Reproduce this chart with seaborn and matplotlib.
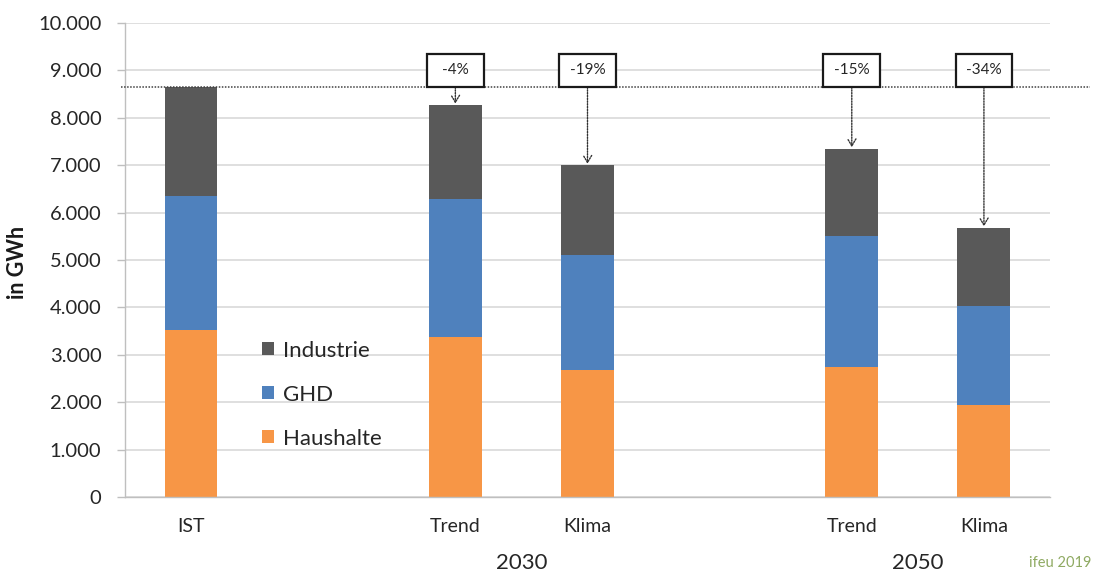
import numpy as np
import pandas as pd
import matplotlib
matplotlib.use("Agg")
import matplotlib.pyplot as plt
from matplotlib.patches import Rectangle
from matplotlib.ticker import FuncFormatter, FixedLocator
import seaborn as sns

# Stromverbrauch nach Sektoren (GWh)
slots = ["IST", "_gap1", "Trend 2030", "Klima 2030", "_gap2", "Trend 2050", "Klima 2050"]
tick_labels = ["IST", "", "Trend", "Klima", "", "Trend", "Klima"]
scenarios = ["IST", "Trend 2030", "Klima 2030", "Trend 2050", "Klima 2050"]
haushalte = [3530, 3380, 2680, 2750, 1940]
ghd = [2820, 2900, 2430, 2750, 2090]
industrie = [2300, 1990, 1890, 1850, 1650]
years = ["2030", "2050"]

COL_IND = "#595959"
COL_GHD = "#4f81bd"
COL_HH = "#f79646"

df = pd.DataFrame({"szenario": scenarios, "Haushalte": haushalte,
                   "GHD": ghd, "Industrie": industrie})
df["cum_ghd"] = df["Haushalte"] + df["GHD"]
df["total"] = df["cum_ghd"] + df["Industrie"]

sns.set_style("white")
plt.rcParams["font.family"] = ["Lato", "DejaVu Sans"]

fig = plt.figure(figsize=(10.93, 5.73), dpi=100)
ax = fig.add_axes([125 / 1093, 1 - 497 / 573, 925 / 1093, 474 / 573])

common = dict(data=df, x="szenario", order=slots, width=0.4,
              errorbar=None, saturation=1, ax=ax, linewidth=0)
sns.barplot(y="total", color=COL_IND, label="Industrie", **common)
sns.barplot(y="cum_ghd", color=COL_GHD, label="GHD", **common)
sns.barplot(y="Haushalte", color=COL_HH, label="Haushalte", **common)

ax.set_ylim(0, 10000)
ax.set_xlim(-0.5, len(slots) - 0.5)
ax.yaxis.set_major_locator(FixedLocator(np.arange(0, 10001, 1000)))
ax.yaxis.set_major_formatter(FuncFormatter(lambda v, p: f"{int(v):,}".replace(",", ".")))
ax.yaxis.grid(True, color="#d9d9d9", linewidth=1.2)
ax.set_axisbelow(True)

ax.set_xticks(range(len(slots)))
ax.set_xticklabels(tick_labels)
ax.xaxis.set_minor_locator(FixedLocator(np.arange(-0.5, len(slots), 1.0)))
ax.tick_params(axis="x", which="major", length=0, pad=15, labelsize=14, labelcolor="#262626")
ax.tick_params(axis="x", which="minor", length=6, width=1, color="#bfbfbf")
ax.tick_params(axis="y", which="major", length=6, width=1, color="#bfbfbf",
               labelsize=14.5, labelcolor="#262626", left=True, pad=11)

for side in ["top", "right"]:
    ax.spines[side].set_visible(False)
for side in ["left", "bottom"]:
    ax.spines[side].set_color("#bfbfbf")
    ax.spines[side].set_linewidth(1)

ax.set_xlabel("")
ax.set_ylabel("")
fig.text(17 / 1093, 1 - 262 / 573, "in GWh", rotation=90, ha="center", va="center",
         fontsize=15.5, fontweight="bold", color="#1a1a1a")

# year labels below the scenario pairs
pos = {s: slots.index(s) for s in scenarios}
for yr in years:
    xc = (pos[f"Trend {yr}"] + pos[f"Klima {yr}"]) / 2
    ax.text(xc, -0.139, yr, transform=ax.get_xaxis_transform(),
            ha="center", va="center", fontsize=16, color="#262626")

fig.text(1091 / 1093, 1 - 563 / 573, "ifeu 2019", ha="right", va="center",
         fontsize=10.5, color="#8faa62")

# reference line at the IST total
ist_total = df.loc[df["szenario"] == "IST", "total"].iloc[0]
ax.plot([-0.53, 6.8], [ist_total, ist_total], linestyle=(0, (1, 1)),
        color="#404040", linewidth=1.1, clip_on=False, zorder=3)

# change vs. IST with arrows
box_w, box_h = 0.43, 700
for _, row in df.iterrows():
    if row["szenario"] == "IST":
        continue
    xc = pos[row["szenario"]]
    pct = round((row["total"] / ist_total - 1) * 100)
    ax.add_patch(Rectangle((xc - box_w / 2, ist_total), box_w, box_h,
                           facecolor="white", edgecolor="#1a1a1a",
                           linewidth=1.6, zorder=5, clip_on=False))
    ax.text(xc, ist_total + box_h / 2, f"{pct}%", ha="center", va="center",
            fontsize=11, color="#262626", zorder=6)
    ax.annotate("", xy=(xc, row["total"] + 30), xytext=(xc, ist_total),
                arrowprops=dict(arrowstyle="->,head_length=0.5,head_width=0.3",
                                linestyle=(0, (1, 1)), color="#333333",
                                linewidth=1.0, shrinkA=0, shrinkB=0),
                zorder=4)

handles, labels = ax.get_legend_handles_labels()
ax.legend(handles, labels, loc="upper left", bbox_to_anchor=(0.148, 0.330),
          frameon=False, fontsize=16, handlelength=0.55, handleheight=0.55,
          handletextpad=0.4, labelspacing=1.08, borderaxespad=0, borderpad=0)

fig.savefig("out.png", dpi=100)
